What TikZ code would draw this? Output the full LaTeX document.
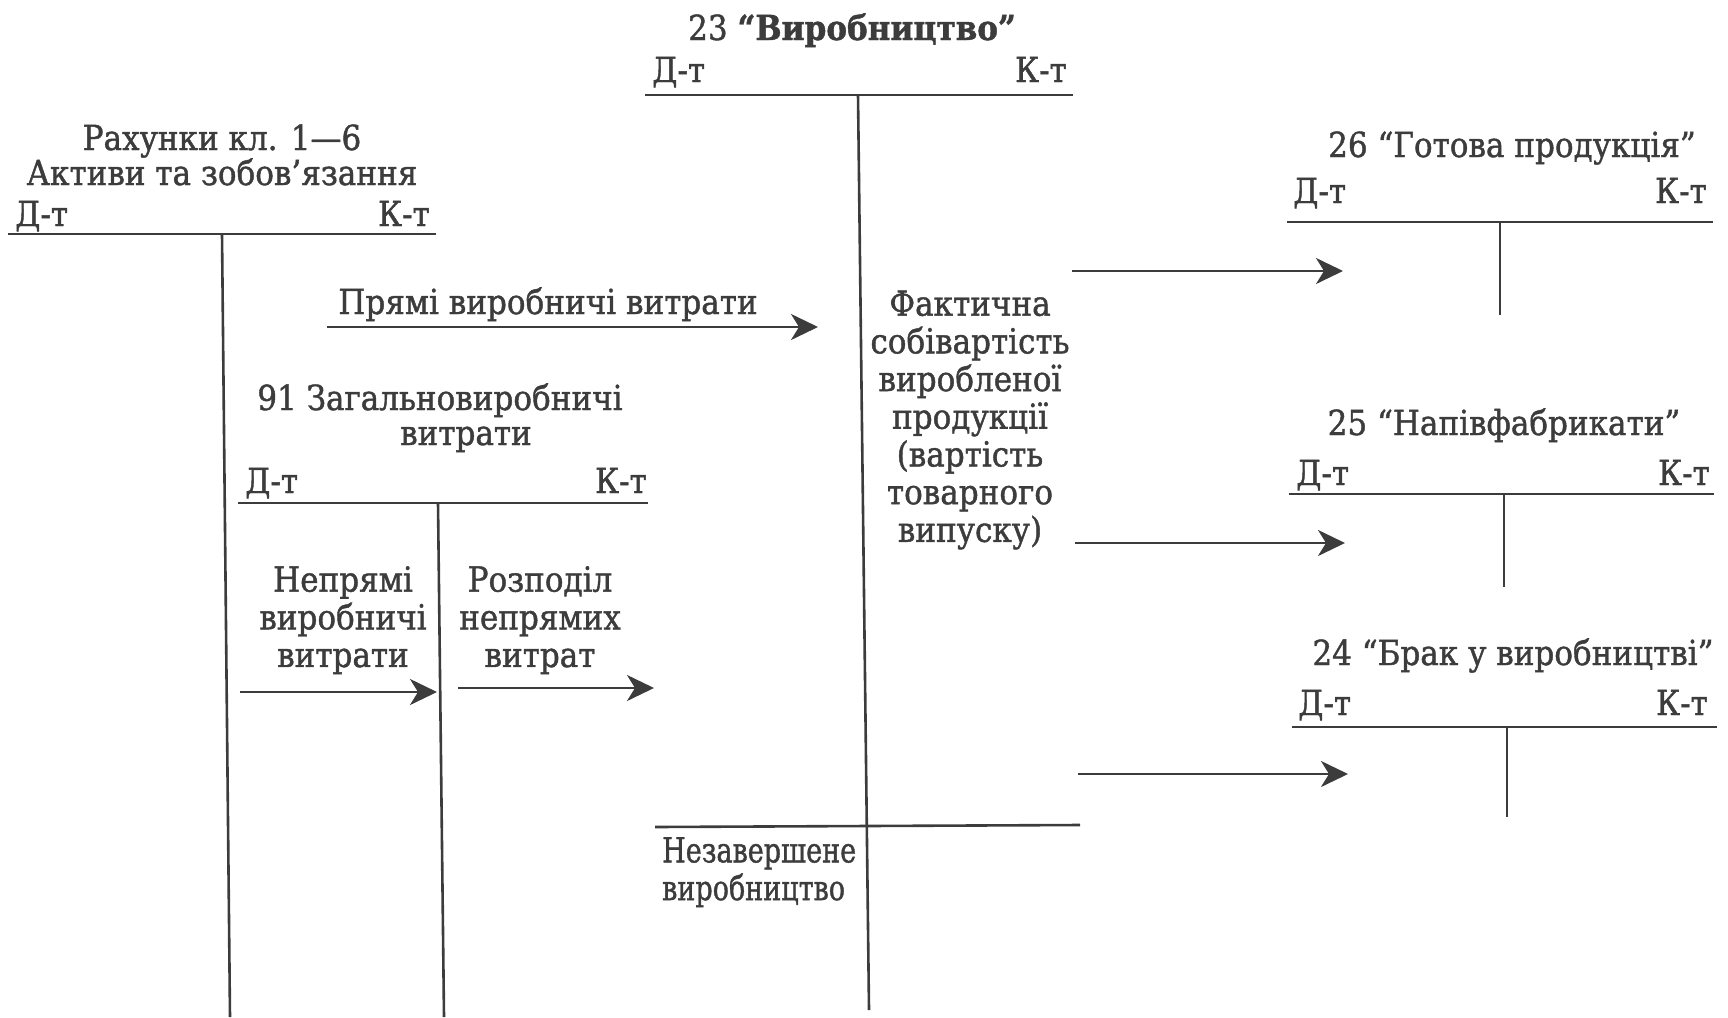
\documentclass[tikz,border=0pt]{standalone}
\usepackage{fontspec}
\setmainfont{DejaVu Serif}[FakeStretch=0.9,FakeBold=1.2]
\usetikzlibrary{arrows.meta}
\definecolor{ink}{HTML}{3C3C3C}
\tikzset{
  txt/.style={text=ink,font=\fontsize{34.5}{37.7}\selectfont,inner sep=0pt,align=center},
  rule/.style={draw=ink,line width=2.6pt},
  arr/.style={draw=ink,line width=2.6pt,-{Stealth[length=27pt,width=26pt,inset=8pt]}}
}
\begin{document}
\begin{tikzpicture}[x=1pt,y=-1pt]
\useasboundingbox (0,0) rectangle (1728,1017);

% --- Account classes 1-6
\node[txt,anchor=base] (a1t1) at (222,150) {Рахунки кл. 1—6};
\node[txt,anchor=base] (a1t2) at (222,185) {Активи та зобов’язання};
\node[txt,anchor=base west] (a1d) at (15,226) {Д-т};
\node[txt,anchor=base east] (a1k) at (430,226) {К-т};
\coordinate (a1L) at (8,234); \coordinate (a1R) at (436,234);
\coordinate (a1T) at (222,234); \coordinate (a1B) at (230,1017);
\draw[rule] (a1L) -- (a1R);
\draw[rule] (a1T) -- (a1B);

% --- Account 23
\node[txt,anchor=base] (p23) at (852,40) {23 \textbf{“Виробництво”}};
\node[txt,anchor=base west] (p23d) at (652,82) {Д-т};
\node[txt,anchor=base east] (p23k) at (1067,82) {К-т};
\coordinate (p23L) at (645,95); \coordinate (p23R) at (1073,95);
\coordinate (p23T) at (858,95); \coordinate (p23B) at (869,1010);
\draw[rule] (p23L) -- (p23R);
\draw[rule] (p23T) -- (p23B);
\coordinate (p23bL) at (655,827); \coordinate (p23bR) at (1080,825);
\draw[rule] (p23bL) -- (p23bR);
\node[txt,anchor=north west,align=left] (wip) at (662,837) {\scalebox{0.87}[1]{Незавершене}\\\scalebox{0.87}[1]{виробництво}};
\node[txt] (fact) at (970,420) {Фактична\\собівартість\\виробленої\\продукції\\(вартість\\товарного\\випуску)};

% --- Account 91
\node[txt,anchor=base] (o91a) at (440,410) {91 Загальновиробничі};
\node[txt,anchor=base] (o91b) at (466,445) {витрати};
\node[txt,anchor=base west] (o91d) at (245,493) {Д-т};
\node[txt,anchor=base east] (o91k) at (647,493) {К-т};
\coordinate (o91L) at (238,503); \coordinate (o91R) at (648,503);
\coordinate (o91T) at (438,503); \coordinate (o91B) at (444,1017);
\draw[rule] (o91L) -- (o91R);
\draw[rule] (o91T) -- (o91B);

% --- Account 26
\node[txt,anchor=base] (g26) at (1512,157) {26 “Готова продукція”};
\node[txt,anchor=base west] (g26d) at (1293,203) {Д-т};
\node[txt,anchor=base east] (g26k) at (1707,203) {К-т};
\coordinate (g26L) at (1287,222); \coordinate (g26R) at (1713,222);
\coordinate (g26T) at (1500,222); \coordinate (g26B) at (1500,315);
\draw[rule] (g26L) -- (g26R);
\draw[rule] (g26T) -- (g26B);

% --- Account 25
\node[txt,anchor=base] (n25) at (1504,435) {25 “Напівфабрикати”};
\node[txt,anchor=base west] (n25d) at (1296,485) {Д-т};
\node[txt,anchor=base east] (n25k) at (1710,485) {К-т};
\coordinate (n25L) at (1289,494); \coordinate (n25R) at (1714,494);
\coordinate (n25T) at (1504,494); \coordinate (n25B) at (1504,587);
\draw[rule] (n25L) -- (n25R);
\draw[rule] (n25T) -- (n25B);

% --- Account 24
\node[txt,anchor=base] (b24) at (1513,665) {24 “Брак у виробництві”};
\node[txt,anchor=base west] (b24d) at (1298,715) {Д-т};
\node[txt,anchor=base east] (b24k) at (1708,715) {К-т};
\coordinate (b24L) at (1292,727); \coordinate (b24R) at (1717,727);
\coordinate (b24T) at (1507,727); \coordinate (b24B) at (1507,817);
\draw[rule] (b24L) -- (b24R);
\draw[rule] (b24T) -- (b24B);

% --- Flows
\node[txt,anchor=base] (direct) at (548,314) {Прямі виробничі витрати};
\coordinate (dirS) at (327,327); \coordinate (dirE) at (818,327);
\draw[arr] (dirS) -- (dirE);

\node[txt,anchor=north] (indir) at (343,566) {Непрямі\\виробничі\\витрати};
\coordinate (indS) at (240,692); \coordinate (indE) at (437,692);
\draw[arr] (indS) -- (indE);

\node[txt,anchor=north] (alloc) at (540,566) {Розподіл\\непрямих\\витрат};
\coordinate (allS) at (458,688); \coordinate (allE) at (654,688);
\draw[arr] (allS) -- (allE);

\coordinate (f1S) at (1072,271); \coordinate (f1E) at (1343,271);
\coordinate (f2S) at (1075,543); \coordinate (f2E) at (1345,543);
\coordinate (f3S) at (1078,774); \coordinate (f3E) at (1348,774);
\draw[arr] (f1S) -- (f1E);
\draw[arr] (f2S) -- (f2E);
\draw[arr] (f3S) -- (f3E);
\end{tikzpicture}
\end{document}
